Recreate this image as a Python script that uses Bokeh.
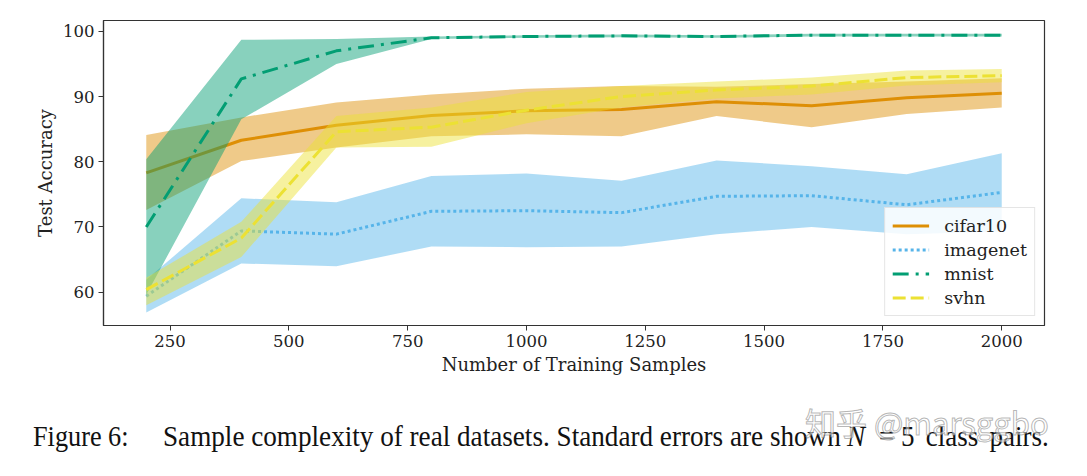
from bokeh.plotting import figure
from bokeh.layouts import column
from bokeh.models import Range1d, Legend, LegendItem, FixedTicker, Div
from bokeh.embed import file_html
from bokeh.resources import INLINE

# ---- data ----
samples = [200, 400, 600, 800, 1000, 1200, 1400, 1600, 1800, 2000]

cifar10_mean = [78.3, 83.3, 85.6, 87.1, 87.8, 88.0, 89.2, 88.6, 89.8, 90.5]
cifar10_low = [72.6, 80.1, 82.2, 83.9, 84.2, 83.9, 87.0, 85.3, 87.3, 88.3]
cifar10_high = [84.1, 86.8, 89.1, 90.3, 91.2, 91.6, 91.5, 91.9, 92.3, 92.8]

imagenet_mean = [59.4, 69.4, 68.9, 72.4, 72.5, 72.2, 74.7, 74.8, 73.4, 75.3]
imagenet_low = [56.9, 64.4, 64.0, 67.0, 66.9, 67.0, 68.9, 70.0, 68.9, 69.3]
imagenet_high = [61.9, 74.4, 73.8, 77.8, 78.2, 77.1, 80.2, 79.3, 78.1, 81.3]

mnist_mean = [70.0, 92.7, 97.0, 99.0, 99.2, 99.3, 99.2, 99.4, 99.4, 99.4]
mnist_low = [59.6, 86.5, 95.0, 98.8, 99.0, 99.1, 99.0, 99.2, 99.2, 99.2]
mnist_high = [80.4, 98.7, 98.8, 99.2, 99.4, 99.5, 99.4, 99.6, 99.6, 99.6]

svhn_mean = [60.4, 68.3, 84.6, 85.3, 87.9, 90.0, 91.0, 91.6, 92.9, 93.2]
svhn_low = [58.0, 65.4, 82.2, 82.3, 85.9, 88.3, 89.7, 90.3, 91.7, 92.2]
svhn_high = [62.2, 70.8, 87.0, 88.3, 90.7, 91.6, 92.3, 92.9, 94.0, 94.2]

series_names = ["cifar10", "imagenet", "mnist", "svhn"]
x_ticks = [250, 500, 750, 1000, 1250, 1500, 1750, 2000]
y_ticks = [60, 70, 80, 90, 100]

caption_fig = "Figure 6:"
caption_a = "Sample complexity of real datasets. Standard errors are shown"
caption_n = "N"
caption_eq = "="
caption_b = "5 class pairs."
watermark = "知乎 @marsggbo"

# ---- styles ----
colors = ["#de8f05", "#56b4e9", "#029e73", "#ece133"]
dashes = ["solid", "3 3", "16 7 3 7", "13 5"]
means = [cifar10_mean, imagenet_mean, mnist_mean, svhn_mean]
lows = [cifar10_low, imagenet_low, mnist_low, svhn_low]
highs = [cifar10_high, imagenet_high, mnist_high, svhn_high]

SERIF = "DejaVu Serif"
W = 1079

p = figure(width=W, height=393, output_backend="svg", toolbar_location=None,
           x_range=Range1d(110, 2090), y_range=Range1d(54.9, 101.65),
           min_border_left=103, min_border_right=35, min_border_top=20, min_border_bottom=68)
p.background_fill_color = "white"
p.border_fill_color = "white"
p.xgrid.visible = False
p.ygrid.visible = False
p.outline_line_color = "#333333"
p.outline_line_width = 1.2

items = []
for name, c, d, m, lo, hi in zip(series_names, colors, dashes, means, lows, highs):
    p.varea(x=samples, y1=lo, y2=hi, fill_color=c, fill_alpha=0.47)
    r = p.line(x=samples, y=m, line_color=c, line_width=3, line_dash=d)
    items.append(LegendItem(label=name, renderers=[r]))

legend = Legend(items=items, location="bottom_right")
legend.label_text_font = SERIF
legend.label_text_font_size = "17.5px"
legend.label_text_color = "#222222"
legend.glyph_width = 37
legend.glyph_height = 21
legend.label_height = 21
legend.label_standoff = 15
legend.spacing = 3
legend.padding = 7
legend.margin = 9
legend.border_line_color = "#cccccc"
legend.border_line_width = 1
legend.background_fill_alpha = 0.85
p.add_layout(legend)

for ax in (p.xaxis[0], p.yaxis[0]):
    ax.major_label_text_font = SERIF
    ax.major_label_text_font_size = "16.5px"
    ax.major_label_text_color = "#222222"
    ax.axis_label_text_font = SERIF
    ax.axis_label_text_font_size = "18px"
    ax.axis_label_text_font_style = "normal"
    ax.axis_label_text_color = "#222222"
    ax.minor_tick_line_color = None
    ax.major_tick_in = 0
    ax.major_tick_out = 5
    ax.major_tick_line_color = "#333333"
    ax.axis_line_color = "#333333"
    ax.axis_line_width = 1.2
    ax.major_label_standoff = 4

p.xaxis.ticker = FixedTicker(ticks=x_ticks)
p.yaxis.ticker = FixedTicker(ticks=y_ticks)
p.xaxis.axis_label = "Number of Training Samples"
p.yaxis.axis_label = "Test Accuracy"
p.xaxis.axis_label_standoff = 4
p.yaxis.axis_label_standoff = 4

# ---- caption below the chart, as real HTML text (slightly condensed like the scan) ----
def span(left, top, txt, size=30, style="normal", font="'Liberation Serif', serif",
         color="#111111", sx=0.9, extra=""):
    return (f'<span style="position:absolute; left:{left}px; top:{top}px; '
            f'font-family:{font}; font-size:{size}px; line-height:{size}px; font-style:{style}; '
            f'color:{color}; white-space:nowrap; transform:scaleX({sx}); '
            f'transform-origin:0 0; {extra}">{txt}</span>')

cap_html = ('<div style="position:relative; width:%dpx; height:76px; margin:0; padding:0;">' % W
            + span(33, 28, caption_fig, sx=0.875)
            + span(163, 28, caption_a, sx=0.905)
            + span(847, 28, caption_n, style="italic", sx=0.9)
            + span(879, 28, caption_eq, sx=0.9)
            + span(901, 28, caption_b, sx=0.9, extra="word-spacing:5px;")
            + span(805, 13, watermark, size=31, font="'Noto Sans CJK SC', sans-serif",
                   color="rgba(255,255,255,0.55)", sx=1.0,
                   extra="-webkit-text-stroke:1px rgba(120,120,120,0.55);")
            + '</div>')
cap = Div(text=cap_html, width=W, height=76, margin=0)

layout = column(p, cap, spacing=0)
open("out.html", "w").write(file_html(layout, INLINE))
